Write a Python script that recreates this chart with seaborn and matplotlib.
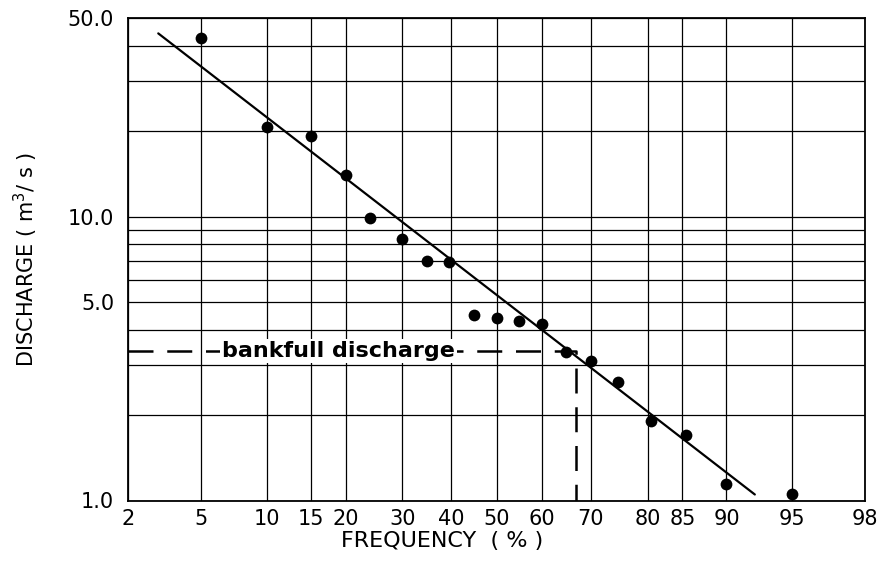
import math
import numpy as np
import pandas as pd
import matplotlib
matplotlib.use("Agg")
import matplotlib.pyplot as plt
import matplotlib.transforms as mtransforms
from matplotlib.ticker import NullLocator
import seaborn as sns

# ---------------- data ----------------
frequency = [5, 10, 15, 20, 24, 30, 35, 39.5, 45, 50, 55, 60, 65, 70, 75, 80.5, 85.5, 90, 95]
discharge = [42.8, 20.8, 19.2, 14.0, 9.9, 8.35, 7.0, 6.95, 4.5, 4.4, 4.3, 4.2, 3.33, 3.1,
             2.62, 1.9, 1.7, 1.14, 1.05]
fit_freq = [2.97, 92.5]
fit_discharge = [44.3, 1.05]
bankfull_freq = 67.1
bankfull_q = 3.37
x_ticks = [2, 5, 10, 15, 20, 30, 40, 50, 60, 70, 80, 85, 90, 95, 98]
y_grid = [1, 2, 3, 4, 5, 6, 7, 8, 9, 10, 20, 30, 40, 50]
y_labeled = {1: "1.0", 5: "5.0", 10: "10.0", 50: "50.0"}

# ---------------- probability scale helpers ----------------
_a = [-3.969683028665376e+01, 2.209460984245205e+02, -2.759285104469687e+02,
      1.383577518672690e+02, -3.066479806614716e+01, 2.506628277459239e+00]
_b = [-5.447609879822406e+01, 1.615858368580409e+02, -1.556989798598866e+02,
      6.680131188771972e+01, -1.328068155288572e+01]
_c = [-7.784894002430293e-03, -3.223964580411365e-01, -2.400758277161838e+00,
      -2.549671348283726e+00, 4.374664141464968e+00, 2.938163982698783e+00]
_d = [7.784695709041462e-03, 3.224671290700398e-01, 2.445134137142996e+00,
      3.754408661907416e+00]


def _ppf(p):
    p = np.clip(np.asarray(p, dtype=float), 1e-7, 1 - 1e-7)
    q = p - 0.5
    r = q * q
    central = (((((_a[0] * r + _a[1]) * r + _a[2]) * r + _a[3]) * r + _a[4]) * r + _a[5]) * q / \
              (((((_b[0] * r + _b[1]) * r + _b[2]) * r + _b[3]) * r + _b[4]) * r + 1)
    ql = np.sqrt(-2 * np.log(np.minimum(p, 1 - p)))
    tail = (((((_c[0] * ql + _c[1]) * ql + _c[2]) * ql + _c[3]) * ql + _c[4]) * ql + _c[5]) / \
           ((((_d[0] * ql + _d[1]) * ql + _d[2]) * ql + _d[3]) * ql + 1)
    tail = np.where(p < 0.5, tail, -tail)
    plow = 0.02425
    return np.where((p >= plow) & (p <= 1 - plow), central, tail)


_erf = np.vectorize(math.erf, otypes=[float])


def fwd(x):
    return _ppf(np.asarray(x, dtype=float) / 100.0)


def inv(z):
    return 50.0 * (1.0 + _erf(np.asarray(z, dtype=float) / math.sqrt(2.0)))


# ---------------- figure ----------------
sns.set_theme(style="white")
plt.rcParams["font.family"] = ["DejaVu Sans"]
plt.rcParams["mathtext.default"] = "regular"

fig = plt.figure(figsize=(8.94, 5.72), dpi=100)
ax = fig.add_axes([0.1432, 0.125, 0.8244, 0.8427])
ax.set_xscale("function", functions=(fwd, inv))
ax.set_yscale("log")
ax.set_xlim(2, 98)
ax.set_ylim(1, 50)

df = pd.DataFrame({"frequency": frequency, "discharge": discharge})
fit = pd.DataFrame({"frequency": fit_freq, "discharge": fit_discharge})

sns.lineplot(data=fit, x="frequency", y="discharge", ax=ax, color="black",
             linewidth=1.6, estimator=None, sort=False, zorder=3)
sns.scatterplot(data=df, x="frequency", y="discharge", ax=ax, color="black",
                s=72, edgecolor="black", linewidth=0, zorder=4)

# bankfull discharge reference line
ax.plot([2, bankfull_freq, bankfull_freq], [bankfull_q, bankfull_q, 1],
        color="black", linewidth=1.8, dashes=(10, 5.5), zorder=2.5,
        solid_capstyle="butt", dash_capstyle="butt")
trans = mtransforms.blended_transform_factory(ax.transAxes, ax.transData)
ax.text(0.285, bankfull_q, "bankfull discharge", transform=trans, ha="center",
        va="center", fontsize=16, fontweight="bold", color="black", zorder=3.5,
        bbox=dict(facecolor="white", edgecolor="none", pad=1.5))

# ticks and grid
ax.set_xticks(x_ticks)
ax.set_xticklabels([str(t) for t in x_ticks])
ax.xaxis.set_minor_locator(NullLocator())
ax.set_yticks(y_grid)
ax.set_yticklabels([y_labeled.get(v, "") for v in y_grid])
ax.yaxis.set_minor_locator(NullLocator())
ax.tick_params(axis="both", length=0, labelsize=15, colors="black")
ax.tick_params(axis="x", pad=6)
ax.tick_params(axis="y", pad=10)
ax.set_axisbelow(True)
ax.grid(True, which="major", color="black", linewidth=0.9)
for sp in ax.spines.values():
    sp.set_color("black")
    sp.set_linewidth(1.3)
    sp.set_visible(True)

ax.set_xlabel("FREQUENCY  ( % )", fontsize=16, color="black")
ax.xaxis.set_label_coords(0.426, -0.064)
ax.set_ylabel("DISCHARGE ( m$^{3}$/ s )", fontsize=15, color="black", va="center")
ax.yaxis.set_label_coords(-0.138, 0.5)

fig.savefig("out.png", dpi=100)
